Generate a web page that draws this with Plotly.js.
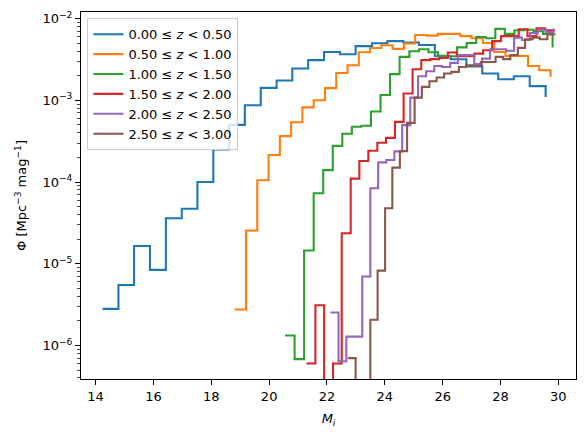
<!DOCTYPE html>
<html>
<head>
<meta charset="utf-8">
<script src="https://cdn.plot.ly/plotly-3.0.1.min.js"></script>
<style>html,body{margin:0;padding:0;background:#fff;}#chart{width:586px;height:436px;}</style>
</head>
<body>
<div id="chart"></div>
<script>
// Bin positions (M_i) and luminosity function values per redshift slice.
// 1e-9 marks bins that fall below the visible range (line drops off the axis).
const seriesNames = [
  "0.00 ≤ <i>z</i> &lt; 0.50",
  "0.50 ≤ <i>z</i> &lt; 1.00",
  "1.00 ≤ <i>z</i> &lt; 1.50",
  "1.50 ≤ <i>z</i> &lt; 2.00",
  "2.00 ≤ <i>z</i> &lt; 2.50",
  "2.50 ≤ <i>z</i> &lt; 3.00"
];
const seriesColors = ["#1f77b4", "#ff7f0e", "#2ca02c", "#d62728", "#9467bd", "#8c564b"];

const blueX = [14.24,14.79,15.33,15.88,16.43,16.98,17.52,18.07,18.62,19.16,19.71,20.26,20.80,21.35,21.90,22.45,22.99,23.56,24.09,24.64,25.18,25.73,26.28,26.82,27.37,27.92,28.46,29.01,29.56];
const blueY = [2.8e-6,5.5e-6,1.65e-5,8.4e-6,3.6e-5,4.7e-5,1.0e-4,2.5e-4,5.0e-4,8.7e-4,1.42e-3,1.75e-3,2.45e-3,3.1e-3,3.9e-3,3.66e-3,4.6e-3,5.0e-3,5.3e-3,5.1e-3,4.75e-3,3.46e-3,3.18e-3,2.6e-3,2.13e-3,1.81e-3,1.97e-3,1.49e-3,1.1e-3];

const orangeX = [18.81,19.20,19.59,19.98,20.37,20.76,21.15,21.54,21.93,22.32,22.71,23.10,23.49,23.88,24.27,24.66,25.05,25.44,25.83,26.22,26.61,27.00,27.39,27.78,28.17,28.56,28.95,29.34,29.73];
const orangeY = [2.75e-6,2.55e-5,1.05e-4,2.14e-4,3.65e-4,5.4e-4,8.2e-4,1.0e-3,1.41e-3,2.16e-3,2.69e-3,3.87e-3,4.37e-3,4.72e-3,4.26e-3,4.96e-3,6.3e-3,6.2e-3,6.5e-3,6.5e-3,6.1e-3,5.74e-3,5.03e-3,3.91e-3,3.49e-3,3.49e-3,2.63e-3,2.33e-3,1.94e-3];

const greenX = [20.55,20.88,21.21,21.54,21.87,22.20,22.53,22.86,23.19,23.52,23.85,24.18,24.51,24.85,25.18,25.51,25.84,26.17,26.50,26.83,27.16,27.49,27.82,28.15,28.48,28.81,29.14,29.47,29.80];
const greenY = [1.32e-6,6.8e-7,1.45e-5,7.3e-5,1.4e-4,2.77e-4,3.89e-4,4.74e-4,4.88e-4,7.3e-4,1.16e-3,2.09e-3,3.4e-3,3.98e-3,4.22e-3,3.87e-3,3.51e-3,3.46e-3,4.45e-3,5.03e-3,5.96e-3,5.75e-3,7.5e-3,6.5e-3,7.2e-3,7.3e-3,7.0e-3,6.5e-3,4.42e-3];

const redX = [21.29,21.60,21.90,22.21,22.51,22.82,23.12,23.43,23.74,24.04,24.35,24.65,24.96,25.26,25.57,25.88,26.18,26.49,26.79,27.10,27.40,27.71,28.02,28.32,28.63,28.93,29.24,29.54,29.85];
const redY = [6.0e-7,3.1e-6,1e-9,6.0e-7,2.36e-5,1.1e-4,1.81e-4,2.41e-4,3.02e-4,3.47e-4,5.45e-4,1.21e-3,2.4e-3,3.1e-3,3.19e-3,3.3e-3,3.85e-3,3.46e-3,3.46e-3,3.73e-3,4.1e-3,5.3e-3,6.1e-3,6.1e-3,7.4e-3,6.1e-3,7.6e-3,7.2e-3,7.0e-3];

const purpleX = [22.12,22.40,22.67,22.95,23.22,23.50,23.77,24.05,24.33,24.60,24.88,25.15,25.43,25.71,25.98,26.26,26.53,26.81,27.09,27.36,27.64,27.91,28.19,28.47,28.74,29.02,29.29,29.57,29.84];
const purpleY = [2.53e-6,6.4e-7,1.28e-6,1.28e-6,6.97e-6,8.4e-5,1.74e-4,1.86e-4,2.37e-4,4.97e-4,1.08e-3,1.97e-3,2.27e-3,2.63e-3,2.56e-3,2.87e-3,3.57e-3,3.57e-3,2.77e-3,3.24e-3,4.22e-3,4.22e-3,4.05e-3,5.86e-3,5.48e-3,6.67e-3,7.3e-3,6.86e-3,7.55e-3];

const brownX = [22.73,22.99,23.24,23.50,23.75,24.01,24.26,24.52,24.77,25.03,25.28,25.54,25.79,26.05,26.30,26.56,26.81,27.07,27.32,27.58,27.83,28.09,28.34,28.60,28.85,29.11,29.36,29.62,29.87];
const brownY = [7.0e-7,1e-9,1e-9,2.06e-6,8.24e-6,4.78e-5,1.5e-4,2.39e-4,5.3e-4,1.08e-3,1.46e-3,1.71e-3,1.9e-3,2.13e-3,2.23e-3,2.56e-3,2.69e-3,2.63e-3,2.95e-3,2.95e-3,3.4e-3,3.19e-3,3.57e-3,4.38e-3,5.58e-3,5.86e-3,5.58e-3,6.38e-3,6.3e-3];

const xTickVals = [14,16,18,20,22,24,26,28,30];
const yTickVals = [1e-6,1e-5,1e-4,1e-3,1e-2];
const yTickText = ["10<sup>−6</sup>","10<sup>−5</sup>","10<sup>−4</sup>","10<sup>−3</sup>","10<sup>−2</sup>"];
const yMinorVals = [];
[1e-7,1e-6,1e-5,1e-4,1e-3].forEach(d => { for (let k = 2; k <= 9; k++) yMinorVals.push(k*d); });

const xs = [blueX, orangeX, greenX, redX, purpleX, brownX];
const ys = [blueY, orangeY, greenY, redY, purpleY, brownY];

const traces = xs.map((x, i) => ({
  type: "scatter", mode: "lines", x: x, y: ys[i], name: seriesNames[i],
  line: {shape: "hv", color: seriesColors[i], width: 2.1}
}));

const font = {family: "DejaVu Sans, sans-serif", size: 13, color: "#000"};

const layout = {
  width: 586, height: 436,
  margin: {l: 81, r: 10, t: 12, b: 57},
  paper_bgcolor: "#fff", plot_bgcolor: "#fff",
  font: font,
  showlegend: true,
  legend: {
    x: 0.013, y: 0.983, xanchor: "left", yanchor: "top",
    bgcolor: "rgba(255,255,255,0.8)", bordercolor: "#cccccc", borderwidth: 1,
    font: {family: "DejaVu Sans, sans-serif", size: 13, color: "#000"},
    itemwidth: 30, tracegroupgap: 0
  },
  xaxis: {
    range: [13.495, 30.61], tickvals: xTickVals,
    ticks: "outside", ticklen: 5, tickwidth: 1, tickcolor: "#000",
    showline: true, mirror: true, linecolor: "#000", linewidth: 1,
    showgrid: false, zeroline: false,
    title: {text: "<i>M</i><sub><i>i</i></sub>", font: font, standoff: 11}
  },
  yaxis: {
    type: "log", range: [-6.411, -1.919],
    tickmode: "array", tickvals: yTickVals, ticktext: yTickText,
    ticks: "outside", ticklen: 5, tickwidth: 1, tickcolor: "#000",
    minor: {tickmode: "array", tickvals: yMinorVals, ticks: "outside", ticklen: 3, tickwidth: 0.7, tickcolor: "#000", showgrid: false},
    showline: true, mirror: true, linecolor: "#000", linewidth: 1,
    showgrid: false, zeroline: false,
    title: {text: "Φ [Mpc<sup>−3</sup> mag<sup>−1</sup>]", font: font, standoff: 12}
  }
};

Plotly.newPlot("chart", traces, layout, {displayModeBar: false, staticPlot: true});
</script>
</body>
</html>
